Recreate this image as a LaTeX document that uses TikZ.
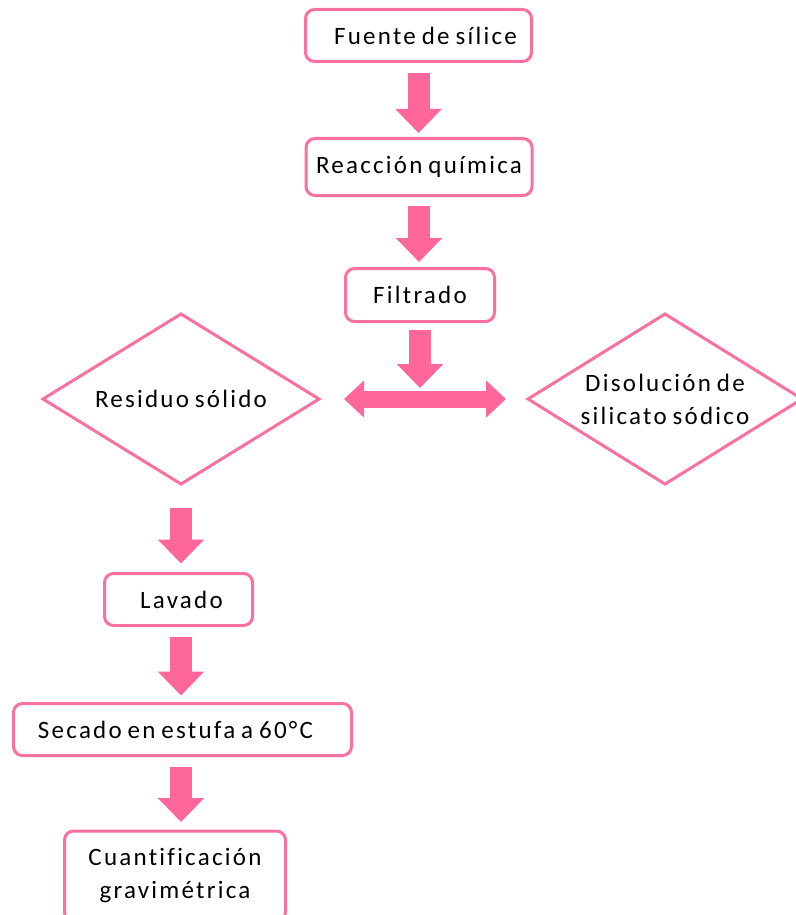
\documentclass[tikz,border=0pt]{standalone}
\usepackage{fontspec}
\setmainfont{Carlito}[LetterSpace=9,WordSpace=0.75,Ligatures=NoCommon]
\usetikzlibrary{arrows.meta,shapes.geometric}

\definecolor{rosa}{RGB}{255,102,153}
\definecolor{rosaborde}{RGB}{250,112,158}

\begin{document}
\begin{tikzpicture}[x=1pt,y=-1pt,
  every node/.style={font=\fontsize{25}{33}\selectfont, text=black, outer sep=0pt},
  caja/.style={draw=rosaborde, line width=3pt, rounded corners=9pt, fill=white,
    align=center, inner sep=0pt},
  rombo/.style={diamond, draw=rosaborde, line width=3pt, align=center,
    inner sep=0pt, shape aspect=1.62},
  flecha/.style={draw=rosa, line width=22pt, -{Triangle[width=45pt,length=24pt]}},
  flechadoble/.style={draw=rosa, line width=17pt,
    {Triangle[width=36pt,length=20pt]}-{Triangle[width=36pt,length=20pt]}},
]
\useasboundingbox (0,0) rectangle (795,915);

% main column
\node[caja, minimum width=226pt, minimum height=52pt] (fuente) at (418.5,35.5)
  {\hspace*{14pt}Fuente de sílice};
\node[caja, minimum width=226pt, minimum height=57pt] (reaccion) at (419,167)
  {Reacción química};
\node[caja, minimum width=149pt, minimum height=53pt] (filtrado) at (420,295)
  {Filtrado};

% the two products of the filtration
\node[rombo, minimum width=276pt, minimum height=170pt] (residuo) at (181,399)
  {Residuo sólido};
\node[rombo, minimum width=274pt, minimum height=170pt] (disolucion) at (665,399)
  {Disolución de\\silicato sódico};

% treatment of the solid residue
\node[caja, minimum width=148pt, minimum height=52pt] (lavado) at (178.5,599.5)
  {\hspace*{6pt}Lavado};
\node[caja, minimum width=338pt, minimum height=52pt] (secado) at (182.5,729.5)
  {Secado en estufa a 60°C\hspace*{14pt}};
\node[caja, minimum width=221pt, minimum height=90pt] (cuant) at (175,876)
  {Cuantificación\\gravimétrica};

% connectors
\coordinate (cruce) at (filtrado.south |- residuo.east);
\draw[flecha, shorten <=11.5pt, shorten >=5.5pt] (fuente.south) -- (fuente.south |- reaccion.north);
\draw[flecha, shorten <=10.5pt, shorten >=6.5pt] (reaccion.south) -- (reaccion.south |- filtrado.north);
\draw[flecha, shorten <=8.5pt, shorten >=11pt] (filtrado.south) -- (cruce);
\draw[flechadoble, shorten <=25pt, shorten >=22pt] (residuo.east) -- (disolucion.west);

\draw[flecha, shorten <=24pt, shorten >=10pt] (residuo.south) -- (residuo.south |- lavado.north);
\draw[flecha, shorten <=11pt, shorten >=8pt] (residuo.south |- lavado.south) -- (residuo.south |- secado.north);
\draw[flecha, shorten <=11.5pt, shorten >=9pt] (residuo.south |- secado.south) -- (residuo.south |- cuant.north);
\end{tikzpicture}
\end{document}
